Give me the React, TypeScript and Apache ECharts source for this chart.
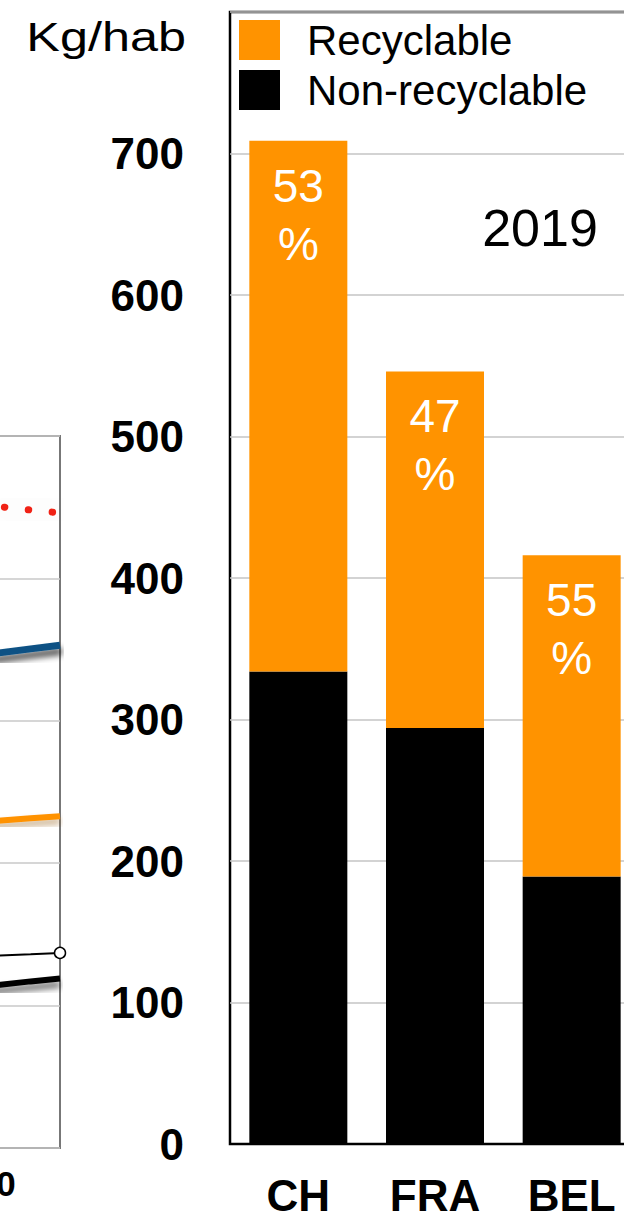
import React, { useEffect, useRef } from "react";
import * as echarts from "echarts";

// Right chart (2019) data
const countries = ["CH", "FRA", "BEL"];
const nonRecyclable = [334, 294, 189];
const recyclable = [375, 252, 227];
const recyclablePct = [53, 47, 55];
const yTicks = [0, 100, 200, 300, 400, 500, 600, 700, 800];

// Left (cropped) time-series fragment
const years = [2012, 2016, 2019];
const redSeries = [451, 448, 446];
const blueSeries = [347, 350.5, 353];
const orangeSeries = [229.5, 231.5, 233];
const thinBlackSeries = [135, 136, 137];
const thickBlackSeries = [114, 117, 119];

const FONT = "Liberation Sans, Arial, Helvetica, sans-serif";
const SHIFT = 400; // chart canvas starts 400px left of the visible page

function pairs(vals: number[]) {
  return vals.map((v, i) => [years[i], v]);
}

export default function App() {
  const ref = useRef<HTMLDivElement>(null);
  useEffect(() => {
    if (!ref.current) return;
    const chart = echarts.init(ref.current, null, { renderer: "svg" });
    const last = years.length - 1;
    chart.setOption({
      animation: false,
      backgroundColor: "#fff",
      textStyle: { fontFamily: FONT },
      legend: {
        data: ["Recyclable", "Non-recyclable"],
        orient: "vertical",
        left: SHIFT + 239,
        top: 19,
        padding: 0,
        itemWidth: 41,
        itemHeight: 40,
        itemGap: 8,
        icon: "rect",
        textStyle: { fontSize: 42, color: "#000", fontFamily: FONT, padding: [0, 0, 0, 22] },
      },
      grid: [
        {
          left: SHIFT - 224,
          width: 284,
          top: 436,
          height: 712,
          show: true,
          borderColor: "#777",
          borderWidth: 2,
          backgroundColor: "transparent",
        },
        {
          left: SHIFT + 230,
          width: 410,
          top: 12,
          height: 1132,
          show: true,
          borderColor: "#000",
          borderWidth: 2.5,
          backgroundColor: "transparent",
        },
      ],
      xAxis: [
        {
          gridIndex: 0,
          type: "value",
          min: 1990,
          max: 2019,
          interval: 10,
          axisLine: { show: false },
          axisTick: { show: false },
          splitLine: { show: false },
          axisLabel: {
            fontSize: 35,
            fontWeight: "bold",
            color: "#000",
            margin: 18,
            showMaxLabel: false,
            fontFamily: FONT,
          },
        },
        {
          gridIndex: 1,
          type: "category",
          data: countries,
          axisLine: { show: true, lineStyle: { color: "#000", width: 2 } },
          axisTick: { show: false },
          axisLabel: { fontSize: 44, fontWeight: "bold", color: "#000", margin: 29, fontFamily: FONT },
        },
      ],
      yAxis: [
        {
          gridIndex: 0,
          type: "value",
          min: 0,
          max: 500,
          interval: 100,
          axisLine: { show: false },
          axisTick: { show: false },
          axisLabel: { show: false },
          splitLine: { lineStyle: { color: "#c8c8c8", width: 1.5 } },
        },
        {
          gridIndex: 1,
          type: "value",
          min: yTicks[0],
          max: yTicks[yTicks.length - 1],
          interval: 100,
          axisLine: { show: false },
          axisTick: { show: false },
          splitLine: { lineStyle: { color: "#c4c4c4", width: 1.5 } },
          axisLabel: {
            showMaxLabel: false,
            fontSize: 44,
            fontWeight: "bold",
            color: "#000",
            margin: 46,
            padding: [10, 0, 0, 0],
            fontFamily: FONT,
          },
        },
      ],
      graphic: [
        {
          type: "text",
          x: SHIFT + 186,
          y: 37,
          scaleX: 1.26,
          style: {
            text: "Kg/hab",
            fontSize: 40,
            fontFamily: FONT,
            fill: "#000",
            textAlign: "right",
            textVerticalAlign: "middle",
          },
        },
        {
          type: "text",
          x: SHIFT + 540,
          y: 228,
          style: {
            text: "2019",
            fontSize: 52,
            fontFamily: FONT,
            fill: "#000",
            textAlign: "center",
            textVerticalAlign: "middle",
          },
          z: 10,
        },
      ],
      series: [
        {
          name: "red",
          type: "line",
          xAxisIndex: 0,
          yAxisIndex: 0,
          data: pairs(redSeries),
          symbol: "none",
          lineStyle: {
            color: "#f02014",
            width: 7,
            type: [0.5, 23.5],
            dashOffset: 10.6,
            cap: "round",
            shadowColor: "rgba(0,0,0,0.2)",
            shadowBlur: 30,
          },
        },
        {
          name: "blue",
          type: "line",
          xAxisIndex: 0,
          yAxisIndex: 0,
          data: pairs(blueSeries),
          symbol: "none",
          lineStyle: {
            color: "#0b5184",
            width: 7,
            shadowColor: "rgba(0,0,0,0.7)",
            shadowBlur: 6,
            shadowOffsetY: 6,
            shadowOffsetX: 2,
          },
        },
        {
          name: "orange",
          type: "line",
          xAxisIndex: 0,
          yAxisIndex: 0,
          data: pairs(orangeSeries),
          symbol: "none",
          lineStyle: {
            color: "#ff9200",
            width: 6,
            shadowColor: "rgba(140,80,0,0.45)",
            shadowBlur: 6,
            shadowOffsetY: 5,
          },
        },
        {
          name: "thinBlack",
          type: "line",
          xAxisIndex: 0,
          yAxisIndex: 0,
          data: pairs(thinBlackSeries),
          symbol: "circle",
          symbolSize: (_v: any, p: any) => (p.dataIndex === last ? 11 : 0),
          showSymbol: true,
          itemStyle: { color: "#fff", borderColor: "#000", borderWidth: 1.5 },
          lineStyle: { color: "#000", width: 2 },
          z: 5,
        },
        {
          name: "thickBlack",
          type: "line",
          xAxisIndex: 0,
          yAxisIndex: 0,
          data: pairs(thickBlackSeries),
          symbol: "none",
          lineStyle: {
            color: "#000",
            width: 6,
            shadowColor: "rgba(0,0,0,0.6)",
            shadowBlur: 6,
            shadowOffsetY: 6,
          },
        },
        {
          name: "Non-recyclable",
          type: "bar",
          xAxisIndex: 1,
          yAxisIndex: 1,
          stack: "total",
          barWidth: 98,
          itemStyle: { color: "#000" },
          data: nonRecyclable,
        },
        {
          name: "Recyclable",
          type: "bar",
          xAxisIndex: 1,
          yAxisIndex: 1,
          stack: "total",
          barWidth: 98,
          itemStyle: { color: "#ff9300" },
          data: recyclable,
          label: {
            show: true,
            position: "insideTop",
            distance: 16,
            color: "#fff",
            fontSize: 46,
            lineHeight: 58,
            fontFamily: FONT,
            formatter: (p: any) => recyclablePct[p.dataIndex] + "\n%",
          },
        },
      ],
    });
    return () => chart.dispose();
  }, []);
  return (
    <div
      style={{
        position: "absolute",
        left: 0,
        top: 0,
        width: 624,
        height: 1219,
        overflow: "hidden",
      }}
    >
      <div
        ref={ref}
        style={{ position: "absolute", left: -SHIFT, top: 0, width: SHIFT + 640, height: 1219 }}
      />
    </div>
  );
}
